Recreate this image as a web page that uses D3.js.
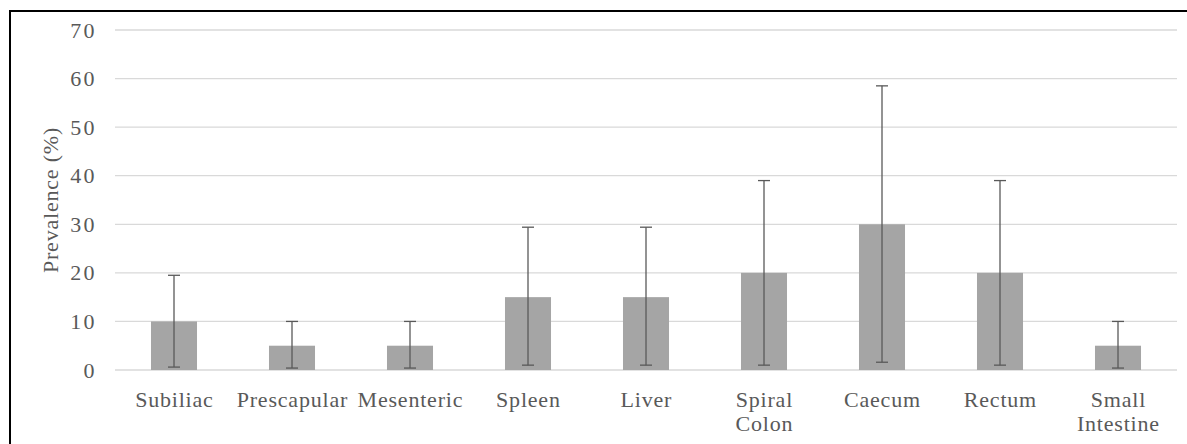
<!DOCTYPE html>
<html>
<head>
<meta charset="utf-8">
<style>
    body { margin: 0; background: #fff; }
</style>
</head>
<body>
<svg width="1187" height="444"></svg>
<script src="https://d3js.org/d3.v7.min.js"></script>
<script>
    // categories and values
    let sites = ['Subiliac', 'Prescapular', 'Mesenteric', 'Spleen', 'Liver', 'Spiral Colon', 'Caecum', 'Rectum', 'Small Intestine']
    let labelLines = [['Subiliac'], ['Prescapular'], ['Mesenteric'], ['Spleen'], ['Liver'], ['Spiral', 'Colon'], ['Caecum'], ['Rectum'], ['Small', 'Intestine']]
    let prevalence = [10, 5, 5, 15, 15, 20, 30, 20, 5]
    let errUpper = [19.5, 10, 10, 29.4, 29.4, 39, 58.5, 39, 10]
    let errLower = [0.6, 0.4, 0.4, 1, 1, 1, 1.6, 1, 0.4]
    let yTicks = [0, 10, 20, 30, 40, 50, 60, 70]

    let font = 'Liberation Serif'
    let textColor = '#595959'

    let svg = d3.select("svg")

    let x = d3.scaleBand()
        .domain(sites)
        .range([115, 1177])
        .paddingInner(0.61)
        .paddingOuter(0.305)

    let y = d3.scaleLinear()
        .domain([0, 70])
        .range([370, 30])

    // gridlines
    svg.append("g")
        .selectAll("line")
        .data(yTicks)
        .join("line")
        .attr("x1", 115)
        .attr("x2", 1177)
        .attr("y1", d => y(d))
        .attr("y2", d => y(d))
        .style("stroke", "#d9d9d9")
        .style("stroke-width", 1.3)

    // y axis labels
    let yAxis = d3.axisLeft(y).tickValues(yTicks).tickSize(0).tickPadding(0)
    let yg = svg.append("g")
        .attr("transform", "translate(97,0)")
        .call(yAxis)
        .attr("font-family", font)
        .attr("font-size", 22)
    yg.select(".domain").remove()
    yg.selectAll("text")
        .attr("fill", textColor)
        .attr("letter-spacing", 2.4)

    svg.append("text")
        .attr("transform", "translate(50,200) rotate(-90)")
        .attr("text-anchor", "middle")
        .attr("dy", "0.35em")
        .attr("font-family", font)
        .attr("font-size", 22)
        .attr("letter-spacing", 0.8)
        .attr("fill", textColor)
        .text("Prevalence (%)")

    // bars
    svg.append("g")
        .selectAll("rect")
        .data(sites)
        .join("rect")
        .attr("x", d => x(d))
        .attr("width", x.bandwidth())
        .attr("y", (d, i) => y(prevalence[i]))
        .attr("height", (d, i) => y(0) - y(prevalence[i]))
        .style("fill", "#a5a5a5")

    // error bars
    let eb = svg.append("g")
        .selectAll("g")
        .data(sites)
        .join("g")
        .attr("transform", d => "translate(" + (x(d) + x.bandwidth() / 2) + ",0)")
        .style("stroke", "#595959")
        .style("stroke-width", 1.3)

    eb.append("line")
        .attr("y1", (d, i) => y(errUpper[i]))
        .attr("y2", (d, i) => y(errLower[i]))
    eb.append("line")
        .attr("x1", -6).attr("x2", 6)
        .attr("y1", (d, i) => y(errUpper[i]))
        .attr("y2", (d, i) => y(errUpper[i]))
    eb.append("line")
        .attr("x1", -6).attr("x2", 6)
        .attr("y1", (d, i) => y(errLower[i]))
        .attr("y2", (d, i) => y(errLower[i]))

    // category labels
    let cat = svg.append("g")
        .selectAll("text")
        .data(sites)
        .join("text")
        .attr("text-anchor", "middle")
        .attr("transform", d => "translate(" + (x(d) + x.bandwidth() / 2 + 0.4) + ",407)")
        .attr("font-family", font)
        .attr("font-size", 22)
        .attr("letter-spacing", 0.8)
        .attr("fill", textColor)

    cat.selectAll("tspan")
        .data((d, i) => labelLines[i])
        .join("tspan")
        .attr("x", 0)
        .attr("y", (d, i) => i * 24)
        .text(d => d)

    // frame
    svg.append("rect")
        .attr("x", 10)
        .attr("y", 11)
        .attr("width", 1200)
        .attr("height", 460)
        .style("fill", "none")
        .style("stroke", "#000")
        .style("stroke-width", 2)
</script>
</body>
</html>
